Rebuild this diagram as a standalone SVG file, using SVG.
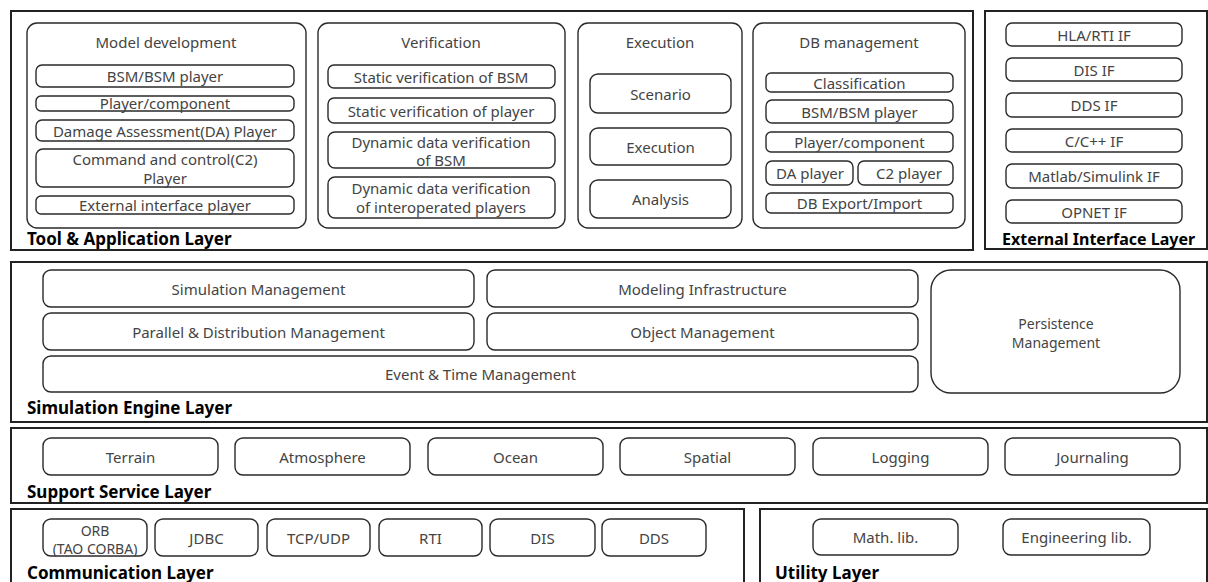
<svg xmlns="http://www.w3.org/2000/svg" width="1208" height="582" viewBox="0 0 1208 582">
  <style>
    .layer { fill: #ffffff; stroke: #222222; stroke-width: 2; }
    .group { fill: #ffffff; stroke: #2a2a2a; stroke-width: 1.4; }
    .box { fill: #ffffff; stroke: #2a2a2a; stroke-width: 1.4; }
    .t { font-family: "Noto Sans", "Open Sans", "Liberation Sans", sans-serif; font-size: 15px; fill: #444444; text-anchor: middle; dominant-baseline: central; }
    .s { font-size: 14px; }
    .lbl { font-family: "Noto Sans", "Open Sans", "Liberation Sans", sans-serif; font-size: 17px; font-weight: bold; fill: #000000; }
    .lbl-narrow { font-size: 16px; }
  </style>
  <rect width="1208" height="582" fill="#ffffff"/>

  <!-- Tool & Application Layer -->
  <g id="tool-application-layer">
    <rect class="layer" x="11" y="11" width="962" height="239"/>
    <text class="lbl" x="27" y="245">Tool &amp; Application Layer</text>
  </g>
  <g id="model-development">
    <rect class="group" x="27" y="23" width="279" height="205" rx="10"/>
    <text class="t" x="166" y="42">Model development</text>
    <rect class="box" x="36" y="65" width="258" height="22" rx="6"/>
    <text class="t" x="165" y="76">BSM/BSM player</text>
    <rect class="box" x="36" y="96" width="258" height="15" rx="5"/>
    <text class="t" x="165" y="103">Player/component</text>
    <rect class="box" x="36" y="120" width="258" height="21" rx="6"/>
    <text class="t" x="165" y="130.5">Damage Assessment(DA) Player</text>
    <rect class="box" x="36" y="149" width="258" height="38" rx="7"/>
    <text class="t" x="165" y="159">Command and control(C2)</text>
    <text class="t" x="165" y="178">Player</text>
    <rect class="box" x="36" y="196" width="258" height="18" rx="5"/>
    <text class="t" x="165" y="205">External interface player</text>
  </g>
  <g id="verification">
    <rect class="group" x="318" y="23" width="247" height="205" rx="10"/>
    <text class="t" x="441" y="42">Verification</text>
    <rect class="box" x="328" y="65" width="227" height="23" rx="6"/>
    <text class="t" x="441" y="76.5">Static verification of BSM</text>
    <rect class="box" x="328" y="98" width="227" height="25" rx="6"/>
    <text class="t" x="441" y="110.5">Static verification of player</text>
    <rect class="box" x="328" y="132" width="227" height="36" rx="7"/>
    <text class="t" x="441" y="142">Dynamic data verification</text>
    <text class="t" x="441" y="160">of BSM</text>
    <rect class="box" x="328" y="177" width="227" height="41" rx="7"/>
    <text class="t" x="441" y="188">Dynamic data verification</text>
    <text class="t" x="441" y="207">of interoperated players</text>
  </g>
  <g id="execution">
    <rect class="group" x="578" y="23" width="164" height="205" rx="10"/>
    <text class="t" x="660" y="42">Execution</text>
    <rect class="box" x="590" y="74" width="141" height="39" rx="8"/>
    <text class="t" x="660.5" y="94">Scenario</text>
    <rect class="box" x="590" y="128" width="141" height="37" rx="8"/>
    <text class="t" x="660.5" y="147">Execution</text>
    <rect class="box" x="590" y="180" width="141" height="38" rx="8"/>
    <text class="t" x="660.5" y="199">Analysis</text>
  </g>
  <g id="db-management">
    <rect class="group" x="753" y="23" width="212" height="205" rx="10"/>
    <text class="t" x="859" y="42">DB management</text>
    <rect class="box" x="766" y="73" width="187" height="19" rx="5"/>
    <text class="t" x="859.5" y="82.5">Classification</text>
    <rect class="box" x="766" y="100" width="187" height="23" rx="6"/>
    <text class="t" x="859.5" y="111.5">BSM/BSM player</text>
    <rect class="box" x="766" y="132" width="187" height="20" rx="5"/>
    <text class="t" x="859.5" y="142">Player/component</text>
    <rect class="box" x="766" y="161" width="87" height="24" rx="6"/>
    <text class="t" x="810" y="173">DA player</text>
    <rect class="box" x="858" y="161" width="95" height="24" rx="6"/>
    <text class="t" x="909" y="173">C2 player</text>
    <rect class="box" x="766" y="193" width="187" height="20" rx="5"/>
    <text class="t" x="859.5" y="203">DB Export/Import</text>
  </g>

  <!-- External Interface Layer -->
  <g id="external-interface-layer">
    <rect class="layer" x="985" y="11" width="222" height="238"/>
    <text class="lbl lbl-narrow" x="1002" y="245">External Interface Layer</text>
    <rect class="box" x="1006" y="23" width="176" height="23" rx="6"/>
    <text class="t" x="1094" y="34.5">HLA/RTI IF</text>
    <rect class="box" x="1006" y="58" width="176" height="23" rx="6"/>
    <text class="t" x="1094" y="69.5">DIS IF</text>
    <rect class="box" x="1006" y="93" width="176" height="24" rx="6"/>
    <text class="t" x="1094" y="105">DDS IF</text>
    <rect class="box" x="1006" y="129" width="176" height="23" rx="6"/>
    <text class="t" x="1094" y="140.5">C/C++ IF</text>
    <rect class="box" x="1006" y="164" width="176" height="24" rx="6"/>
    <text class="t" x="1094" y="176">Matlab/Simulink IF</text>
    <rect class="box" x="1006" y="200" width="176" height="23" rx="6"/>
    <text class="t" x="1094" y="211.5">OPNET IF</text>
  </g>

  <!-- Simulation Engine Layer -->
  <g id="simulation-engine-layer">
    <rect class="layer" x="11" y="262" width="1196" height="160"/>
    <text class="lbl" x="27" y="414">Simulation Engine Layer</text>
  </g>
  <g id="simulation-management">
    <rect class="box" x="43" y="270" width="431" height="37" rx="8"/>
    <text class="t" x="258.5" y="288.5">Simulation Management</text>
  </g>
  <g id="modeling-infrastructure">
    <rect class="box" x="487" y="270" width="431" height="37" rx="8"/>
    <text class="t" x="702.5" y="288.5">Modeling Infrastructure</text>
  </g>
  <g id="parallel-distribution-management">
    <rect class="box" x="43" y="313" width="431" height="37" rx="8"/>
    <text class="t" x="258.5" y="331.5">Parallel &amp; Distribution Management</text>
  </g>
  <g id="object-management">
    <rect class="box" x="487" y="313" width="431" height="37" rx="8"/>
    <text class="t" x="702.5" y="331.5">Object Management</text>
  </g>
  <g id="event-time-management">
    <rect class="box" x="43" y="356" width="875" height="36" rx="8"/>
    <text class="t" x="480.5" y="374">Event &amp; Time Management</text>
  </g>
  <g id="persistence-management">
    <rect class="box" x="931" y="270" width="249" height="123" rx="20"/>
    <text class="t s" x="1056" y="323">Persistence</text>
    <text class="t s" x="1056" y="342">Management</text>
  </g>

  <!-- Support Service Layer -->
  <g id="support-service-layer">
    <rect class="layer" x="11" y="428" width="1196" height="75"/>
    <text class="lbl" x="27" y="498">Support Service Layer</text>
  </g>
  <g id="terrain">
    <rect class="box" x="43" y="438" width="175" height="37" rx="8"/>
    <text class="t" x="130.5" y="456.5">Terrain</text>
  </g>
  <g id="atmosphere">
    <rect class="box" x="235" y="438" width="175" height="37" rx="8"/>
    <text class="t" x="322.5" y="456.5">Atmosphere</text>
  </g>
  <g id="ocean">
    <rect class="box" x="428" y="438" width="175" height="37" rx="8"/>
    <text class="t" x="515.5" y="456.5">Ocean</text>
  </g>
  <g id="spatial">
    <rect class="box" x="620" y="438" width="175" height="37" rx="8"/>
    <text class="t" x="707.5" y="456.5">Spatial</text>
  </g>
  <g id="logging">
    <rect class="box" x="813" y="438" width="175" height="37" rx="8"/>
    <text class="t" x="900.5" y="456.5">Logging</text>
  </g>
  <g id="journaling">
    <rect class="box" x="1005" y="438" width="175" height="37" rx="8"/>
    <text class="t" x="1092.5" y="456.5">Journaling</text>
  </g>

  <!-- Communication Layer -->
  <g id="communication-layer">
    <rect class="layer" x="11" y="509" width="733" height="82"/>
    <text class="lbl" x="27" y="579">Communication Layer</text>
  </g>
  <g id="orb">
    <rect class="box" x="43" y="519" width="104" height="37" rx="8"/>
    <text class="t s" x="95" y="530">ORB</text>
    <text class="t s" x="95" y="548">(TAO CORBA)</text>
  </g>
  <g id="jdbc">
    <rect class="box" x="155" y="519" width="103" height="37" rx="8"/>
    <text class="t" x="206.5" y="537.5">JDBC</text>
  </g>
  <g id="tcp-udp">
    <rect class="box" x="267" y="519" width="103" height="37" rx="8"/>
    <text class="t" x="318.5" y="537.5">TCP/UDP</text>
  </g>
  <g id="rti">
    <rect class="box" x="379" y="519" width="103" height="37" rx="8"/>
    <text class="t" x="430.5" y="537.5">RTI</text>
  </g>
  <g id="dis">
    <rect class="box" x="490" y="519" width="105" height="37" rx="8"/>
    <text class="t" x="542.5" y="537.5">DIS</text>
  </g>
  <g id="dds">
    <rect class="box" x="602" y="519" width="104" height="37" rx="8"/>
    <text class="t" x="654" y="537.5">DDS</text>
  </g>

  <!-- Utility Layer -->
  <g id="utility-layer">
    <rect class="layer" x="760" y="509" width="447" height="82"/>
    <text class="lbl" x="775" y="579">Utility Layer</text>
  </g>
  <g id="math-lib">
    <rect class="box" x="813" y="519" width="145" height="36" rx="8"/>
    <text class="t" x="885.5" y="537">Math. lib.</text>
  </g>
  <g id="engineering-lib">
    <rect class="box" x="1003" y="519" width="147" height="36" rx="8"/>
    <text class="t" x="1076.5" y="537">Engineering lib.</text>
  </g>
</svg>
